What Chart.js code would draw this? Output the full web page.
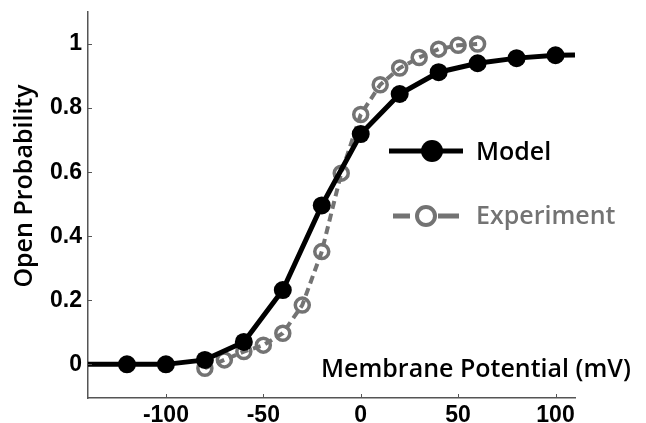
<!DOCTYPE html>
<html>
<head>
<meta charset="utf-8">
<script src="https://cdn.jsdelivr.net/npm/chart.js@4.4.0/dist/chart.umd.min.js"></script>
<style>
  html, body { margin: 0; padding: 0; background: #fff; }
  #wrap { width: 646px; height: 423px; }
</style>
</head>
<body>
<div id="wrap"><canvas id="chart"></canvas></div>
<script>
// data
const modelX = [-140, -120, -100, -80, -60, -40, -20, 0, 20, 40, 60, 80, 100, 110];
const modelY = [0, 0, 0, 0.014, 0.07, 0.232, 0.496, 0.719, 0.844, 0.912, 0.94, 0.956, 0.965, 0.966];

const expX = [-80, -70, -60, -50, -40, -30, -20, -10, 0, 10, 20, 30, 40, 50, 60];
const expY = [-0.012, 0.014, 0.04, 0.06, 0.097, 0.185, 0.352, 0.597, 0.78, 0.873, 0.925, 0.958, 0.984, 0.996, 1.0];

const xTicks = [-100, -50, 0, 50, 100];
const yTicks = [0, 0.2, 0.4, 0.6, 0.8, 1];

const labels = ['Model', 'Experiment'];
const xTitle = 'Membrane Potential (mV)';
const yTitle = 'Open Probability';

const BLACK = '#000000';
const GREY = '#737373';
const AXIS = '#555555';
const TITLE_FONT = '600 25px "Open Sans"';

/* ===============================
   EXTRA DRAWING (ticks, titles, legend)
================================ */
const decor = {
  id: 'decor',
  afterDatasetsDraw(chart) {
    const ctx = chart.ctx;
    const xs = chart.scales.x;
    const ys = chart.scales.y;
    const area = chart.chartArea;

    // inward tick marks
    ctx.save();
    ctx.strokeStyle = AXIS;
    ctx.lineWidth = 1;
    xTicks.forEach(v => {
      const px = Math.round(xs.getPixelForValue(v)) + 0.5;
      ctx.beginPath();
      ctx.moveTo(px, area.bottom);
      ctx.lineTo(px, area.bottom - 4);
      ctx.stroke();
    });
    yTicks.forEach(v => {
      const py = Math.round(ys.getPixelForValue(v)) + 0.5;
      ctx.beginPath();
      ctx.moveTo(area.left, py);
      ctx.lineTo(area.left + 4, py);
      ctx.stroke();
    });
    ctx.restore();

    // axis titles
    ctx.save();
    ctx.fillStyle = BLACK;
    ctx.font = TITLE_FONT;
    ctx.textAlign = 'left';
    ctx.textBaseline = 'middle';
    ctx.fillText(xTitle, 321, 370);

    ctx.translate(25, 186);
    ctx.rotate(-Math.PI / 2);
    ctx.textAlign = 'center';
    ctx.fillText(yTitle, 0, 0);
    ctx.restore();

    // legend
    ctx.save();
    ctx.lineCap = 'butt';
    // model
    ctx.strokeStyle = BLACK;
    ctx.lineWidth = 5;
    ctx.beginPath();
    ctx.moveTo(389, 151);
    ctx.lineTo(463, 151);
    ctx.stroke();
    ctx.fillStyle = BLACK;
    ctx.beginPath();
    ctx.arc(432, 151, 11, 0, Math.PI * 2);
    ctx.fill();
    // experiment
    ctx.strokeStyle = GREY;
    ctx.lineWidth = 5;
    ctx.beginPath();
    ctx.moveTo(393, 216);
    ctx.lineTo(410, 216);
    ctx.moveTo(438, 216);
    ctx.lineTo(459, 216);
    ctx.stroke();
    ctx.lineWidth = 4;
    ctx.beginPath();
    ctx.arc(426, 216, 9, 0, Math.PI * 2);
    ctx.stroke();

    ctx.textAlign = 'left';
    ctx.textBaseline = 'middle';
    ctx.font = TITLE_FONT;
    ctx.fillStyle = BLACK;
    ctx.fillText(labels[0], 476, 153);
    ctx.fillStyle = GREY;
    ctx.fillText(labels[1], 476, 217);
    ctx.restore();
  }
};

new Chart(document.getElementById('chart'), {
  type: 'line',
  data: {
    datasets: [
      {
        label: labels[0],
        data: modelX.map((x, i) => ({ x: x, y: modelY[i] })),
        borderColor: BLACK,
        backgroundColor: BLACK,
        borderWidth: 5,
        pointRadius: c => (c.dataIndex === 0 || c.dataIndex === modelX.length - 1) ? 0 : 9,
        pointBorderWidth: 0,
        pointBackgroundColor: BLACK,
        tension: 0
      },
      {
        label: labels[1],
        data: expX.map((x, i) => ({ x: x, y: expY[i] })),
        borderColor: GREY,
        borderWidth: 4,
        borderDash: [8, 5],
        pointRadius: 7,
        pointBorderWidth: 3.5,
        pointBorderColor: GREY,
        pointBackgroundColor: 'rgba(255,255,255,0)',
        tension: 0
      }
    ]
  },
  options: {
    responsive: true,
    maintainAspectRatio: false,
    animation: false,
    layout: { padding: { top: 12, right: 71, left: 0, bottom: 0 } },
    plugins: {
      legend: { display: false },
      tooltip: { enabled: false }
    },
    scales: {
      x: {
        type: 'linear',
        min: -140,
        max: 110,
        afterBuildTicks: s => { s.ticks = xTicks.map(v => ({ value: v })); },
        afterFit: s => { s.height = 25; s.paddingLeft = 0; s.paddingRight = 0; },
        grid: { display: false, drawTicks: false },
        border: { display: true, color: AXIS, width: 1.5 },
        ticks: {
          padding: 4,
          color: BLACK,
          maxRotation: 0,
          font: { family: 'Liberation Sans', weight: 'bold', size: 23 },
          callback: v => String(v)
        }
      },
      y: {
        type: 'linear',
        min: -0.105,
        max: 1.1,
        afterBuildTicks: s => { s.ticks = yTicks.map(v => ({ value: v })); },
        afterFit: s => { s.width = 88; s.paddingTop = 0; s.paddingBottom = 0; },
        grid: { display: false, drawTicks: false },
        border: { display: true, color: AXIS, width: 1.5 },
        ticks: {
          padding: 6,
          color: BLACK,
          font: { family: 'Liberation Sans', weight: 'bold', size: 23 },
          callback: v => String(v)
        }
      }
    }
  },
  plugins: [decor]
});
</script>
</body>
</html>
